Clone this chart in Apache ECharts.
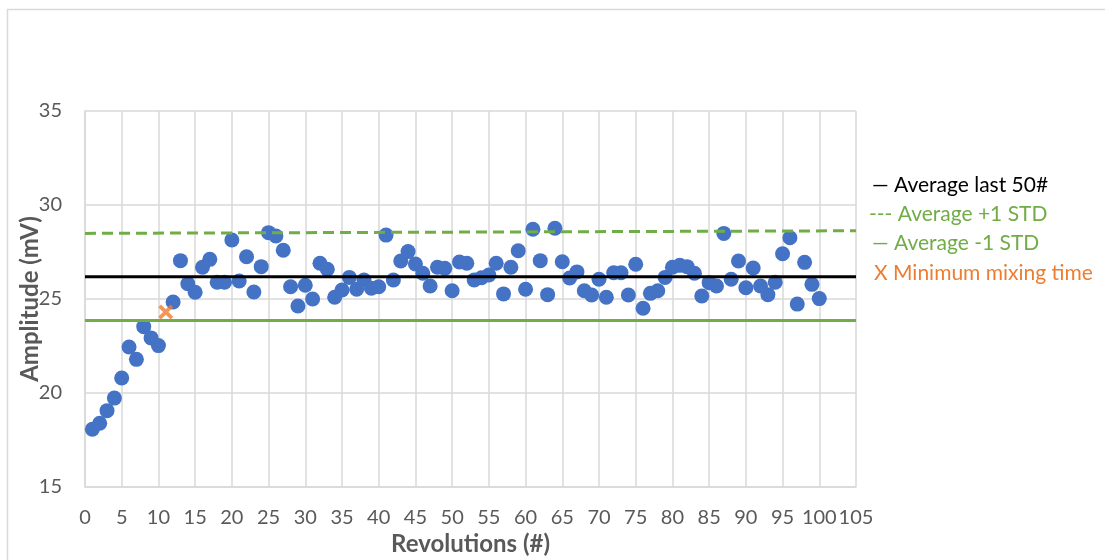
<!DOCTYPE html>
<html>
<head>
<meta charset="utf-8">
<script src="https://cdn.jsdelivr.net/npm/echarts@6/dist/echarts.min.js"></script>
<style>
html,body{margin:0;padding:0;background:#fff;}
#chart{width:1105px;height:560px;}
</style>
</head>
<body>
<div id="chart"></div>
<script>
// ---- data ----
var revolutions = [];
for (var i = 1; i <= 100; i++) revolutions.push(i);
var amplitude = [
  18.07, 18.39, 19.06, 19.73, 20.80, 22.45, 21.79, 23.53, 22.93, 22.52,
  null, 24.84, 27.04, 25.81, 25.36, 26.69, 27.11, 25.89, 25.89, 28.14,
  25.96, 27.25, 25.37, 26.72, 28.53, 28.35, 27.59, 25.65, 24.63, 25.73,
  25.00, 26.90, 26.58, 25.09, 25.48, 26.15, 25.52, 26.01, 25.57, 25.65,
  28.40, 26.01, 27.02, 27.52, 26.86, 26.37, 25.69, 26.69, 26.63, 25.44,
  26.97, 26.90, 26.01, 26.13, 26.28, 26.90, 25.27, 26.69, 27.57, 25.52,
  28.71, 27.04, 25.23, 28.76, 26.98, 26.12, 26.44, 25.44, 25.21, 26.05,
  25.09, 26.40, 26.40, 25.21, 26.85, 24.51, 25.30, 25.44, 26.15, 26.69,
  26.79, 26.72, 26.37, 25.16, 25.87, 25.69, 28.49, 26.05, 27.02, 25.60,
  26.65, 25.69, 25.23, 25.89, 27.41, 28.26, 24.73, 26.95, 25.78, 25.02
];
var lineX = [0, 105];
var avgLast50 = [26.19, 26.19];
var avgPlusStd = [28.49, 28.63];
var avgMinusStd = [23.85, 23.85];
var minMixX = [11];
var minMixY = [24.31];
var legendTexts = ['Average last 50#', 'Average +1 STD', 'Average -1 STD', 'Minimum mixing time'];
var legendMarks = ['\u2014', '---', '\u2014', 'X'];
var xName = 'Revolutions (#)';
var yName = 'Amplitude (mV)';

// ---- build ----
function pairs(xs, ys) { return xs.map(function (x, k) { return [x, ys[k]]; }); }
var scatterData = [];
revolutions.forEach(function (r, k) { if (amplitude[k] !== null) scatterData.push([r, amplitude[k]]); });

var FONT = 'Lato';
var GRAY = '#595959';
var GRID = '#D9D9D9';
var BLUE = '#4472C4';
var GREEN = '#70AD47';
var ORANGE = '#ED7D31';
var legendColors = ['#000000', GREEN, GREEN, ORANGE];
var legendY = [188, 217, 246, 276];
var legendX = [872, 869, 872, 874];

var graphics = [{
  type: 'rect', z: -1, silent: true,
  shape: { x: 7.5, y: 9.5, width: 1200, height: 700 },
  style: { fill: 'none', stroke: GRID, lineWidth: 1.5 }
}];
legendTexts.forEach(function (t, k) {
  graphics.push({
    type: 'text', left: legendX[k], top: legendY[k] - 13,
    style: { text: legendMarks[k] + ' ' + t, fill: legendColors[k], font: '21px ' + FONT }
  });
});

var chart = echarts.init(document.getElementById('chart'), null, { renderer: 'canvas' });
chart.setOption({
  animation: false,
  backgroundColor: '#fff',
  textStyle: { fontFamily: FONT },
  grid: { left: 85, right: 249, top: 111, bottom: 73, containLabel: false, outerBoundsMode: 'none' },
  xAxis: {
    type: 'value', min: 0, max: 105, interval: 5,
    name: xName, nameLocation: 'middle', nameGap: 45, nameMoveOverlap: false,
    nameTextStyle: { color: GRAY, fontSize: 24, fontWeight: 'bold', fontFamily: FONT },
    axisLine: { show: true, lineStyle: { color: GRID, width: 1.5 } },
    axisTick: { show: false },
    axisLabel: { color: GRAY, fontSize: 20, fontFamily: FONT, margin: 21, showMaxLabel: true, showMinLabel: true },
    splitLine: { show: true, lineStyle: { color: GRID, width: 1.5 } }
  },
  yAxis: {
    type: 'value', min: 15, max: 35, interval: 5,
    name: yName, nameLocation: 'middle', nameGap: 43, nameMoveOverlap: false,
    nameTextStyle: { color: GRAY, fontSize: 24, fontWeight: 'bold', fontFamily: FONT },
    axisLine: { show: true, lineStyle: { color: GRID, width: 1.5 } },
    axisTick: { show: false },
    axisLabel: { color: GRAY, fontSize: 20, fontFamily: FONT, margin: 23 },
    splitLine: { show: true, lineStyle: { color: GRID, width: 1.5 } }
  },
  graphic: graphics,
  series: [
    {
      type: 'scatter', z: 2, data: scatterData, symbol: 'circle', symbolSize: 15,
      itemStyle: { color: BLUE, opacity: 1 }
    },
    {
      type: 'scatter', z: 4, data: pairs(minMixX, minMixY),
      symbol: 'path://M0,1.8 L1.8,0 L5,3.2 L8.2,0 L10,1.8 L6.8,5 L10,8.2 L8.2,10 L5,6.8 L1.8,10 L0,8.2 L3.2,5 Z',
      symbolSize: 15, itemStyle: { color: ORANGE }
    },
    {
      type: 'line', z: 3, data: pairs(lineX, avgLast50), symbol: 'none',
      lineStyle: { color: '#000', width: 3 }
    },
    {
      type: 'line', z: 3, data: pairs(lineX, avgPlusStd), symbol: 'none',
      lineStyle: { color: GREEN, width: 3, type: [11, 6] }
    },
    {
      type: 'line', z: 3, data: pairs(lineX, avgMinusStd), symbol: 'none',
      lineStyle: { color: GREEN, width: 3 }
    }
  ]
});
</script>
</body>
</html>
